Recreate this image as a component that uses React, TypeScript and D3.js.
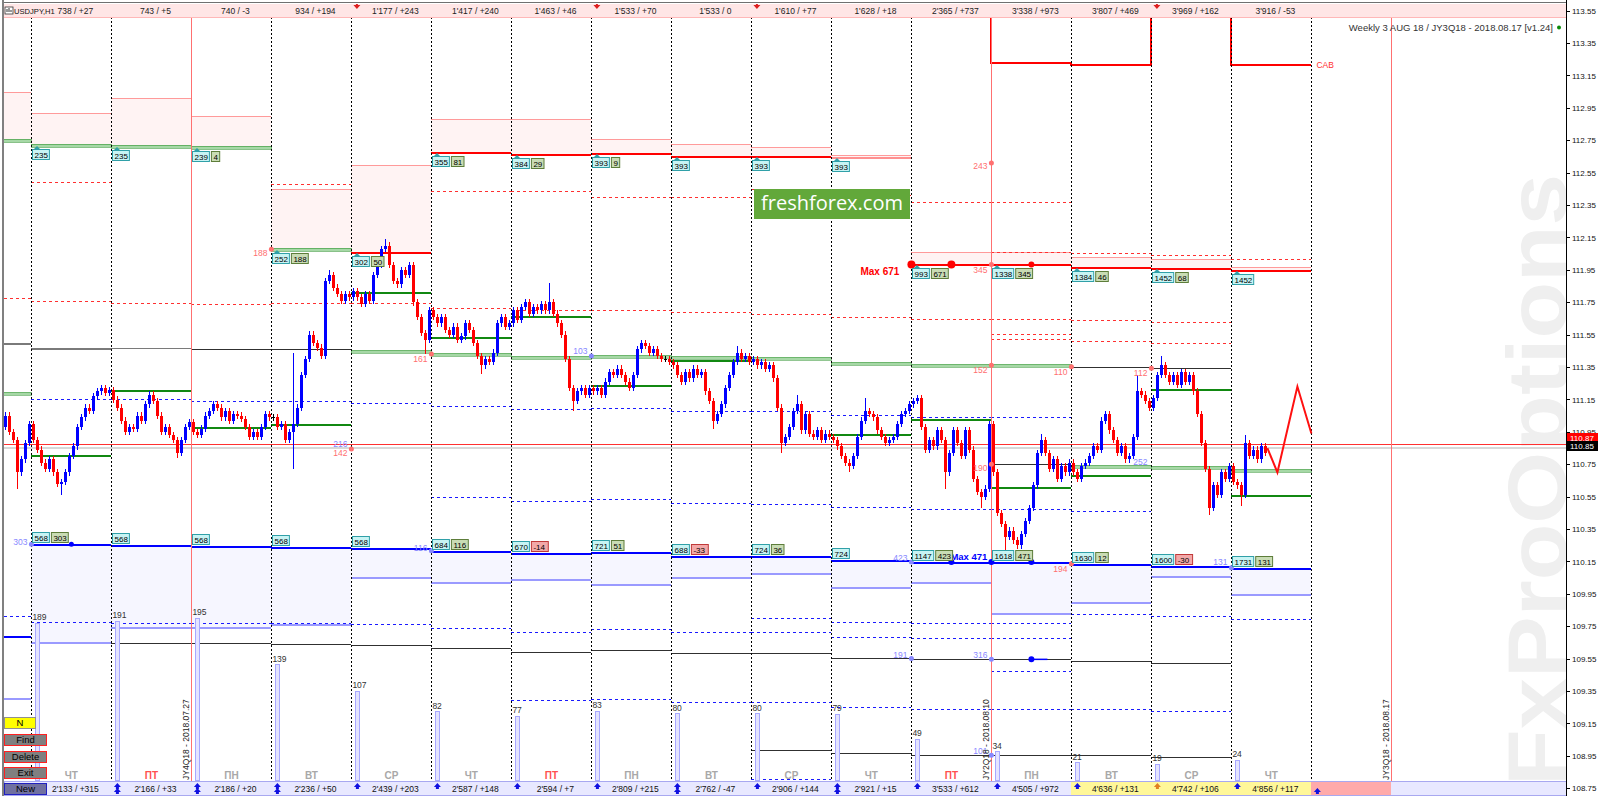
import React from 'react';
import * as d3 from 'd3';

const FONT = "'Liberation Sans', Arial, sans-serif";

// ---- column texts (16 full day columns) ----
const headerLabels = ["738 / +27", "743 / +5", "740 / -3", "934 / +194", "1'177 / +243", "1'417 / +240", "1'463 / +46", "1'533 / +70", "1'533 / 0", "1'610 / +77", "1'628 / +18", "2'365 / +737", "3'338 / +973", "3'807 / +469", "3'969 / +162", "3'916 / -53"];
const footerLabels = ["2'133 / +315", "2'166 / +33", "2'186 / +20", "2'236 / +50", "2'439 / +203", "2'587 / +148", "2'594 / +7", "2'809 / +215", "2'762 / -47", "2'906 / +144", "2'921 / +15", "3'533 / +612", "4'505 / +972", "4'636 / +131", "4'742 / +106", "4'856 / +117"];
const dayNames = ["ЧТ", "ПТ", "ПН", "ВТ", "СР", "ЧТ", "ПТ", "ПН", "ВТ", "СР", "ЧТ", "ПТ", "ПН", "ВТ", "СР", "ЧТ"];
const volumes = [189, 191, 195, 139, 107, 82, 77, 83, 80, 80, 79, 49, 34, 21, 19, 24];
const footerArrows = [2, 2, 2, 2, 1, 1, 1, 1, 2, 1, 2, 1, 1, 1, 1, 1];

// ---- H1 closes, one list per day (first one partial) ----
const firstOpen = 110.98;
const closes: number[][] = [
  [111.05, 110.95, 110.90, 110.70, 110.78, 110.88, 111.00],
  [110.90, 110.84, 110.76, 110.72, 110.78, 110.70, 110.63, 110.64, 110.70, 110.80, 110.86, 110.98, 111.04, 111.10, 111.08, 111.17, 111.20, 111.22, 111.19, 111.21],
  [111.15, 111.10, 111.02, 110.95, 110.98, 110.97, 111.05, 111.02, 111.12, 111.18, 111.14, 111.05, 110.95, 110.98, 110.93, 110.90, 110.82, 110.90, 110.98, 111.01],
  [110.95, 110.93, 110.97, 111.05, 111.08, 111.12, 111.10, 111.04, 111.08, 111.02, 111.06, 111.05, 111.03, 110.98, 110.92, 110.95, 110.92, 110.98, 111.06, 111.04],
  [111.04, 110.98, 111.00, 110.90, 110.95, 111.00, 111.10, 111.30, 111.40, 111.55, 111.50, 111.47, 111.42, 111.88, 111.92, 111.84, 111.80, 111.76, 111.80, 111.78],
  [111.82, 111.78, 111.74, 111.80, 111.76, 111.92, 111.98, 112.08, 112.10, 111.98, 111.88, 111.86, 111.95, 111.92, 111.98, 111.75, 111.66, 111.56, 111.52, 111.70],
  [111.66, 111.62, 111.66, 111.58, 111.55, 111.60, 111.52, 111.54, 111.62, 111.58, 111.50, 111.42, 111.36, 111.40, 111.38, 111.44, 111.62, 111.66, 111.60, 111.62],
  [111.70, 111.64, 111.72, 111.75, 111.68, 111.72, 111.70, 111.74, 111.70, 111.75, 111.68, 111.62, 111.55, 111.40, 111.22, 111.14, 111.20, 111.22, 111.18, 111.22],
  [111.20, 111.22, 111.18, 111.26, 111.32, 111.30, 111.34, 111.30, 111.26, 111.22, 111.30, 111.46, 111.50, 111.48, 111.44, 111.46, 111.42, 111.40, 111.40, 111.38],
  [111.36, 111.30, 111.26, 111.32, 111.28, 111.34, 111.30, 111.32, 111.20, 111.14, 111.02, 111.06, 111.12, 111.22, 111.30, 111.38, 111.44, 111.40, 111.42, 111.38],
  [111.40, 111.36, 111.38, 111.34, 111.36, 111.28, 111.10, 110.88, 110.92, 110.98, 111.08, 111.12, 110.96, 111.06, 110.94, 110.92, 110.96, 110.90, 110.94, 110.92],
  [110.90, 110.86, 110.80, 110.76, 110.74, 110.80, 110.92, 111.02, 111.08, 111.06, 111.04, 110.96, 110.92, 110.88, 110.90, 110.92, 111.00, 111.06, 111.08, 111.12],
  [111.14, 111.16, 110.98, 110.84, 110.90, 110.86, 110.96, 110.90, 110.70, 110.82, 110.96, 110.88, 110.80, 110.96, 110.84, 110.66, 110.58, 110.55, 110.60, 111.00],
  [110.70, 110.45, 110.38, 110.30, 110.34, 110.28, 110.25, 110.32, 110.40, 110.48, 110.62, 110.82, 110.90, 110.82, 110.72, 110.78, 110.66, 110.74, 110.70, 110.76],
  [110.70, 110.66, 110.74, 110.76, 110.80, 110.86, 110.84, 111.02, 111.06, 110.96, 110.90, 110.82, 110.86, 110.78, 110.80, 110.92, 111.20, 111.18, 111.14, 111.10],
  [111.16, 111.30, 111.36, 111.30, 111.26, 111.30, 111.24, 111.32, 111.26, 111.30, 111.20, 111.06, 110.88, 110.72, 110.48, 110.62, 110.56, 110.70, 110.66, 110.74],
  [110.64, 110.62, 110.56, 110.88, 110.80, 110.84, 110.78, 110.86, 110.82],
];
// long wicks: [bar, high, low]
const spikes: [number, number | null, number | null][] = [
  [3, null, 110.60], [14, null, 110.56], [43, null, 110.79], [72, 111.44, 110.72], [81, 111.95, null],
  [95, 112.14, null], [105, null, 111.43], [119, null, 111.31], [136, 111.87, null], [142, null, 111.08],
  [177, null, 110.97], [183, 111.48, null], [194, null, 110.82], [198, 111.18, null], [211, null, 110.70],
  [215, 111.16, null], [235, null, 110.60], [244, null, 110.48], [250, null, 110.22], [259, 110.94, null],
  [283, 111.30, null], [289, 111.42, null], [301, null, 110.44], [309, null, 110.49], [310, 110.93, null],
];
const forecast: [number, number][] = [[315.5, 110.85], [318, 110.70], [323, 111.23], [326.5, 110.94]];

// ---- levels per column k (0 = partial day, 1..16 = day columns) ----
const N = null;
const upperTop = [113.05, 112.92, 113.01, 112.90, 112.45, 112.60, 112.88, 112.88, 112.756, 112.73, 112.71, 112.66, 112.06, 112.06, 112.028, 112.017, 111.97];
const upperBase = [112.752, 112.721, 112.715, 112.709, 112.077, 112.06, 112.68, 112.664, 112.672, 112.655, 112.653, 112.645, 111.984, 111.984, 111.970, 111.960, 111.951];
const upperCyan = [N, 235, 235, 239, 252, 302, 355, 384, 393, 393, 393, 393, 993, 1338, 1384, 1452, 1452];
const upperGreen = [N, N, N, 4, 188, 50, 81, 29, 9, N, N, N, 671, 345, 46, 68, N];
const redDotTop = [N, N, N, N, N, N, N, N, N, N, N, N, N, 112.062, 112.052, 112.044, 112.019];
const redDashUp = [N, 112.49, N, N, 112.48, N, 112.44, 112.44, 112.40, 112.40, 112.45, 112.41, 112.37, 112.37, N, N, N];
const redDotMid = [111.778, 111.758, 111.747, 111.739, 111.744, 111.744, 111.713, 111.702, 111.702, 111.690, 111.680, 111.659, 111.649, 111.649, 111.641, 111.628, N];
const redDotMid2 = [N, N, N, N, N, N, N, N, N, N, N, N, N, 111.552, 111.509, 111.501, N];
const redDotMid3 = [N, N, N, N, N, N, N, N, N, N, N, N, N, 111.522, N, N, N];
const grayMid = [111.501, 111.470, 111.468, 111.460, 111.460, N, N, N, N, N, N, N, N, 110.750, 111.352, 111.343, N];
const lightGreen = [111.190, N, N, N, N, 111.449, 111.429, 111.410, 111.418, 111.410, 111.406, 111.373, 111.361, 111.361, 110.739, 110.731, 110.715];
const darkGreen = [N, 110.809, 111.209, 110.978, 111.000, 111.815, 111.538, 111.667, 111.241, 111.394, N, 110.939, 111.031, 110.612, 110.686, 111.215, 110.560];
const blueDashA = [111.19, 111.151, 111.151, 111.139, 111.139, 111.130, 111.110, 111.089, 111.099, 111.077, 111.077, 111.052, 111.044, 111.044, N, N, N];
const blueDashB = [N, N, N, N, N, N, 110.546, 110.523, 110.534, 110.513, 110.503, 110.485, 110.472, 110.472, 110.462, N, N];
const lowerTop = [109.690, 110.256, 110.252, 110.246, 110.241, 110.231, 110.216, 110.200, 110.209, 110.186, 110.186, 110.157, 110.145, 110.147, 110.136, 110.124, 110.112];
const lowerBase = [109.307, 109.655, 109.747, 109.747, 109.764, 110.054, 110.023, 110.044, 110.013, 110.054, 110.081, 109.993, 110.023, 109.834, 109.898, 110.059, 109.951];
const lowerCyan = [N, 568, 568, 568, 568, 568, 684, 670, 721, 688, 724, 724, 1147, 1618, 1630, 1600, 1731];
const lowerGreen = [N, 303, N, N, N, N, 116, -14, 51, -33, 36, N, 423, 471, 12, -30, 131];
const blueDashC = [109.814, 109.778, 109.769, 109.772, 109.772, 109.762, 109.741, 109.717, 109.731, 109.717, 109.803, 109.778, 109.772, 109.772, 109.824, 109.812, 109.793];
const blueDashC2 = [N, N, N, N, N, N, N, N, N, N, 109.715, 109.686, 109.676, 109.676, N, N, N];
const blackLow = [N, N, 109.645, 109.645, 109.641, 109.633, 109.614, 109.591, 109.602, 109.583, 109.583, 109.552, 109.546, 109.546, 109.536, 109.525, N];
const blueDashE = [N, N, N, N, N, N, N, N, N, N, N, N, N, 109.474, N, N, N];
const blueDashF = [N, N, N, N, N, N, N, 109.293, 109.303, 109.283, 109.283, 109.252, 109.241, 109.241, 109.241, 109.225, N];
const blackLow2 = [N, N, N, N, N, N, N, N, N, N, 108.986, 108.966, 108.954, 108.954, 108.954, 108.941, N];
const blueDashH = [N, N, N, N, N, N, N, N, N, N, 108.806, 108.785, 108.775, 108.775, N, N, N];
const cab: [number, number][] = [[13, 113.70], [13, 113.228], [14, 113.228], [14, 113.216], [15, 113.216], [15, 113.70], [16, 113.70], [16, 113.214], [17, 113.214]];
// [column edge, text price, text, colour, dot price]
const notes: [number, number, string, string, number | null][] = [
  [4, 112.054, "188", "#ff7070", 112.077], [13, 112.591, "243", "#ff7070", 112.610], [13, 111.949, "345", "#ff7070", 111.984],
  [6, 111.400, "161", "#ff7070", 111.431], [5, 110.875, "216", "#8888ff", N], [5, 110.820, "142", "#ff7070", 110.844],
  [8, 111.449, "103", "#8888ff", 111.418], [13, 111.332, "152", "#ff7070", 111.361], [14, 111.322, "110", "#ff7070", 111.352],
  [15, 111.315, "112", "#ff7070", 111.343], [15, 110.764, "252", "#8888ff", N], [13, 110.727, "190", "#ff7070", 110.750],
  [1, 110.270, "303", "#8888ff", 110.256], [6, 110.235, "116", "#8888ff", 110.216], [12, 110.172, "423", "#8888ff", 110.147],
  [16, 110.145, "131", "#8888ff", 110.112], [14, 110.104, "194", "#ff7070", 110.136], [12, 109.573, "191", "#8888ff", 109.552],
  [13, 109.573, "316", "#8888ff", 109.546], [13, 108.980, "101", "#8888ff", 108.954],
];
const bidPrice = 110.85;
const askPrice = 110.873;
const buttons = [
  { t: "N", y: 717, w: 31, fill: "#ffff00", stroke: "#909090" },
  { t: "Find", y: 734, w: 42, fill: "#808080", stroke: "#ff2020" },
  { t: "Delete", y: 751, w: 42, fill: "#808080", stroke: "#ff2020" },
  { t: "Exit", y: 767, w: 42, fill: "#808080", stroke: "#ff2020" },
  { t: "New", y: 783, w: 42, fill: "#7070a0", stroke: "#2020c0" },
];

export default function App() {
  const x = d3.scaleLinear().domain([6.5, 346.5]).range([31.4, 1391.4]);
  const y = d3.scaleLinear().domain([108.75, 113.55]).range([788.3, 10.7]);
  const vol = d3.scaleLinear().domain([0, 200]).range([780, 614]);
  const edge = (k: number) => (k === 0 ? -0.4 : 6.5 + 20 * (k - 1));
  const xl = (k: number) => x(edge(k));
  const xr = (k: number) => x(edge(k + 1));
  const py = (v: number) => Math.round(y(v)) + 0.5;

  const lines = (vals: (number | null)[], key: string, props: any) =>
    vals.map((v, k) => v == null ? null : (
      <line key={key + k} x1={xl(k)} x2={xr(k)} y1={py(v)} y2={py(v)} {...props} />
    ));

  const flat = closes.flat();
  const spikeMap = new Map(spikes.map(s => [s[0], s]));
  const bars = flat.map((c, i) => {
    const o = i === 0 ? firstOpen : flat[i - 1];
    const s = spikeMap.get(i);
    const h = s && s[1] != null ? s[1] : Math.max(o, c) + 0.02;
    const l = s && s[2] != null ? s[2] : Math.min(o, c) - 0.02;
    return { i, o, c, h, l };
  });

  const ticks = d3.range(0, 25).map(i => 108.75 + 0.2 * i);
  const cabLine = d3.line<[number, number]>().x(d => x(edge(d[0]))).y(d => y(d[1]));
  const fcLine = d3.line<[number, number]>().x(d => x(d[0])).y(d => y(d[1]));
  const sepK = d3.range(1, 18);
  const bw = (t: string) => t.length * 4.3 + 4;

  const box = (bx: number, by: number, txt: string, kind: string, key: string) => {
    const fill = kind === 'c' ? '#c8f4f4' : kind === 'g' ? '#c9dcb4' : '#f2a8a8';
    const stroke = kind === 'c' ? '#30a0a8' : kind === 'g' ? '#5d7d3a' : '#c03838';
    return (
      <g key={key}>
        <rect x={bx + 0.5} y={by + 0.5} width={bw(txt)} height={10} fill={fill} stroke={stroke} />
        <text x={bx + 2.5} y={by + 8.5} fontSize={8} fill="#000">{txt}</text>
      </g>
    );
  };

  return (
    <svg width={1600} height={796} style={{ display: 'block', position: 'absolute', left: 0, top: 0, fontFamily: FONT }}>
      <defs>
        <clipPath id="plot"><rect x={4} y={4} width={1562} height={792} /></clipPath>
      </defs>
      <rect x={0} y={0} width={1600} height={796} fill="#fff" />
      <text transform="translate(1566,480) rotate(-90)" textAnchor="middle" fontSize={84} fontWeight="bold"
        fill="#efefef" textLength={612} lengthAdjust="spacingAndGlyphs" fontFamily={FONT}>FxProOptions</text>

      <g clipPath="url(#plot)" shapeRendering="crispEdges">
        {/* pink upper zones and lavender lower zones */}
        {upperTop.map((t, k) => (
          <rect key={'pz' + k} x={xl(k)} y={y(t)} width={xr(k) - xl(k)} height={y(upperBase[k]) - y(t)} fill="#fff3f3" />
        ))}
        {lowerTop.map((t, k) => k === 0 ? null : (
          <rect key={'lz' + k} x={xl(k)} y={y(t)} width={xr(k) - xl(k)} height={y(lowerBase[k]) - y(t)} fill="#f6f6ff" />
        ))}
        {lines(upperTop, 'ut', { stroke: '#ff9a9a', strokeWidth: 1 })}
        {lines(redDotTop, 'rdt', { stroke: '#ff3030', strokeDasharray: '3,3' })}
        {lines(redDashUp, 'rdu', { stroke: '#ff3030', strokeDasharray: '3,3' })}
        {lines(redDotMid, 'rdm', { stroke: '#ff3030', strokeDasharray: '3,3' })}
        {lines(redDotMid2, 'rdm2', { stroke: '#ff3030', strokeDasharray: '3,3' })}
        {lines(redDotMid3, 'rdm3', { stroke: '#ff3030', strokeDasharray: '3,3' })}
        {grayMid.map((v, k) => v == null ? null : (
          <line key={'gm' + k} x1={xl(k)} x2={xr(k)} y1={py(v)} y2={py(v)}
            stroke={k < 3 ? '#7a7a7a' : '#303030'} strokeWidth={k < 2 ? 2 : 1} />
        ))}
        {lines(blueDashA, 'bda', { stroke: '#1a1aff', strokeDasharray: '3,3' })}
        {lines(blueDashB, 'bdb', { stroke: '#1a1aff', strokeDasharray: '3,3' })}
        {lines(blueDashC, 'bdc', { stroke: '#1a1aff', strokeDasharray: '3,3' })}
        {lines(blueDashC2, 'bdc2', { stroke: '#1a1aff', strokeDasharray: '3,3' })}
        {lines(blueDashE, 'bde', { stroke: '#1a1aff', strokeDasharray: '3,3' })}
        {lines(blueDashF, 'bdf', { stroke: '#1a1aff', strokeDasharray: '3,3' })}
        {lines(blueDashH, 'bdh', { stroke: '#1a1aff', strokeDasharray: '3,3' })}
        {lines(blackLow, 'bl', { stroke: '#303030', strokeWidth: 1 })}
        {lines(blackLow2, 'bl2', { stroke: '#303030', strokeWidth: 1 })}
        {lines(lowerBase, 'lb', { stroke: '#9a9aff', strokeWidth: 2 })}
        {lightGreen.map((v, k) => v == null ? null : (
          <rect key={'lg' + k} x={xl(k)} y={Math.round(y(v)) - 1} width={xr(k) - xl(k)} height={3}
            fill="#a6d8a6" stroke="#4aa04a" strokeWidth={0.6} />
        ))}
        {lines(darkGreen, 'dg', { stroke: '#118811', strokeWidth: 2 })}
        {upperBase.map((v, k) => k <= 4 ? (
          <rect key={'ub' + k} x={xl(k)} y={Math.round(y(v)) - 1} width={xr(k) - xl(k)} height={3}
            fill="#a6d8a6" stroke="#3a983a" strokeWidth={0.6} />
        ) : (
          <line key={'ub' + k} x1={xl(k)} x2={xr(k)} y1={py(v)} y2={py(v)}
            stroke={k === 11 ? '#ff9090' : '#ff0000'} strokeWidth={2} />
        ))}
        {lines(lowerTop, 'lt', { stroke: '#0000ff', strokeWidth: 2 })}

        {/* ask / bid */}
        <line x1={4} x2={1566} y1={py(bidPrice) - 1} y2={py(bidPrice) - 1} stroke="#d8d8d8" strokeWidth={2} />
        <line x1={4} x2={1566} y1={py(askPrice)} y2={py(askPrice)} stroke="#ff3030" strokeWidth={1} />

        {/* CAB */}
        <path d={cabLine(cab) || ''} fill="none" stroke="#ff0000" strokeWidth={2} />

        {/* day separators */}
        {sepK.map(k => (
          <line key={'sep' + k} x1={Math.round(x(edge(k))) + 0.5} x2={Math.round(x(edge(k))) + 0.5} y1={17} y2={782}
            stroke="#000" strokeDasharray="2,2" />
        ))}
        {[3, 13, 18].map(k => (
          <line key={'rv' + k} x1={Math.round(x(edge(k))) + 0.5} x2={Math.round(x(edge(k))) + 0.5} y1={4} y2={796}
            stroke="#ff7070" />
        ))}

        {/* volume bars */}
        {volumes.map((v, j) => (
          <rect key={'v' + j} x={Math.round(xl(j + 1)) + 4.5} y={vol(v)} width={4} height={780 - vol(v)} fill="#e4e4ff" stroke="#a8a8ff" />
        ))}

        {/* candles */}
        {bars.map(b => {
          const cx = Math.round(x(b.i));
          const col = b.c > b.o ? '#0000ff' : b.c < b.o ? '#ff0000' : '#000000';
          const top = y(Math.max(b.o, b.c));
          const bh = Math.max(1, y(Math.min(b.o, b.c)) - top);
          return (
            <g key={'c' + b.i}>
              <rect x={cx} y={y(b.h)} width={1} height={y(b.l) - y(b.h)} fill={col} />
              <rect x={cx - 1} y={top} width={3} height={bh} fill={col} />
            </g>
          );
        })}
        <path d={fcLine(forecast) || ''} fill="none" stroke="#ff1010" strokeWidth={2} shapeRendering="auto" />
      </g>

      {/* dots and small numbers */}
      <g fontSize={8.5}>
        {notes.map((n, i) => (
          <g key={'n' + i}>
            <text x={x(edge(n[0])) - 4} y={y(n[1]) + 3} textAnchor="end" fill={n[3]}>{n[2]}</text>
            {n[4] != null && <circle cx={x(edge(n[0]))} cy={y(n[4])} r={2.5} fill={n[3]} />}
          </g>
        ))}
        {volumes.map((v, j) => (
          <text key={'vt' + j} x={xl(j + 1) + 1} y={vol(v) - 3} fill="#333">{v}</text>
        ))}
      </g>
      <circle cx={xl(12)} cy={y(111.984)} r={4} fill="#ff0000" />
      <circle cx={x(edge(12) + 10)} cy={y(111.984)} r={4} fill="#ff0000" />
      <circle cx={x(edge(13) + 10)} cy={y(111.984)} r={3} fill="#ff0000" />
      <text x={xl(12) - 12} y={y(111.939) + 3.5} textAnchor="end" fontSize={10} fontWeight="bold" fill="#ff0000">Max 671</text>
      <circle cx={x(edge(1) + 10)} cy={y(110.256)} r={2.5} fill="#0000ff" />
      <circle cx={x(edge(12) + 10)} cy={y(110.147)} r={3} fill="#0000ff" />
      <circle cx={xl(13)} cy={y(110.147)} r={3} fill="#0000ff" />
      <circle cx={x(edge(13) + 10)} cy={y(110.147)} r={3} fill="#0000ff" />
      <text x={x(edge(12) + 10) - 1} y={y(110.18) + 3} fontSize={9.5} fontWeight="bold" fill="#0000ff">Max 471</text>
      <circle cx={x(edge(13) + 10)} cy={y(109.546)} r={3} fill="#0000ff" />
      <line x1={x(edge(13) + 10)} x2={x(edge(13) + 14)} y1={y(109.546)} y2={y(109.546)} stroke="#0000ff" strokeWidth={1.5} />
      <text x={xr(16) + 5} y={y(113.214) + 3} fontSize={8.5} fill="#ff3030">CAB</text>

      {/* label boxes */}
      {upperCyan.map((v, k) => {
        if (v == null) return null;
        const bx = Math.round(xl(k)) + 1;
        const by = Math.round(y(upperBase[k])) + 4;
        const g = upperGreen[k];
        return (
          <g key={'ubx' + k}>
            <path d={`M${bx + 5},${by - 3} l3,3 h-6 z`} fill="#30a0a8" />
            {box(bx, by, String(v), 'c', 'uc' + k)}
            {g != null && box(bx + bw(String(v)) + 2, by, String(g), g < 0 ? 'r' : 'g', 'ug' + k)}
          </g>
        );
      })}
      {lowerCyan.map((v, k) => {
        if (v == null) return null;
        const bx = Math.round(xl(k)) + 1;
        const by = Math.round(y(lowerTop[k])) - 12;
        const g = lowerGreen[k];
        return (
          <g key={'lbx' + k}>
            {box(bx, by, String(v), 'c', 'lc' + k)}
            {g != null && box(bx + bw(String(v)) + 2, by, String(g), g < 0 ? 'r' : 'g', 'lg' + k)}
          </g>
        );
      })}

      {/* freshforex badge */}
      <rect x={754} y={189} width={156} height={30} fill="#62a83a" />
      <text x={832} y={210} textAnchor="middle" fontSize={20} fill="#fff" fontFamily="'Open Sans', sans-serif">freshforex.com</text>

      {/* rotated expiry labels */}
      {[[189, "JY4Q18 - 2018.07.27"], [989, "JY2Q18 - 2018.08.10"], [1389, "JY3Q18 - 2018.08.17"]].map(([px, t]) => (
        <text key={String(t)} transform={`translate(${px},780) rotate(-90)`} fontSize={8.5} fill="#222">{t}</text>
      ))}

      {/* day names */}
      {dayNames.map((d, j) => (
        <text key={'dn' + j} x={(xl(j + 1) + xr(j + 1)) / 2} y={779} textAnchor="middle" fontSize={10} fontWeight="bold"
          fill={d === 'ПТ' ? '#ff5050' : '#a8a8a8'}>{d}</text>
      ))}

      {/* header strip */}
      <g shapeRendering="crispEdges">
        <rect x={4} y={4} width={1562} height={13} fill="#ffe6e6" />
        <line x1={4} x2={1566} y1={17.5} y2={17.5} stroke="#ffb8b8" />
        <line x1={3} x2={1566} y1={2.5} y2={2.5} stroke="#707070" />
      </g>
      {headerLabels.map((t, j) => (
        <text key={'h' + j} x={(xl(j + 1) + xr(j + 1)) / 2 + 4} y={14} textAnchor="middle" fontSize={8.5} fill="#222">{t}</text>
      ))}
      {[5, 8, 10, 15].map(k => (
        <path key={'hm' + k} d={`M${xl(k) + 2},5 h7 l-3.5,4 z M${xl(k) + 4.5},4 h2 v2 h-2 z`} fill="#dd2020" />
      ))}
      <rect x={5} y={7} width={8} height={7} fill="#fff" stroke="#333" strokeWidth={0.8} />
      <path d="M7,12 v-3 M9,12 v-4 M11,12 v-2" stroke="#333" strokeWidth={1} />
      <text x={14} y={14} fontSize={7.6} fill="#111">USDJPY,H1</text>

      {/* footer strip */}
      <g shapeRendering="crispEdges">
        <rect x={4} y={781.5} width={1562} height={14} fill="#e8e8ff" stroke="#a8a8f0" />
        <rect x={xl(14)} y={782} width={xr(16) - xl(14)} height={13} fill="#fff799" />
        <rect x={xr(16)} y={782} width={80} height={13} fill="#ffaaaa" />
      </g>
      {footerLabels.map((t, j) => (
        <text key={'f' + j} x={(xl(j + 1) + xr(j + 1)) / 2 + 4} y={791.5} textAnchor="middle" fontSize={8.5} fill="#111">{t}</text>
      ))}
      {footerArrows.map((n, j) => (
        <g key={'fa' + j} fill={j === 14 ? '#e08020' : '#1010e0'}>
          {d3.range(n).map(r => (
            <path key={r} d={`M${xl(j + 1) + 6},${783 + r * 5} l3.5,4 h-2 v2 h-3 v-2 h-2 z`} />
          ))}
        </g>
      ))}
      <path d={`M${xr(16) + 6},${788} l3.5,4 h-2 v2 h-3 v-2 h-2 z`} fill="#1010e0" />

      {/* buttons */}
      {buttons.map(b => (
        <g key={b.t}>
          <rect x={4.5} y={b.y + 0.5} width={b.w} height={11} fill={b.fill} stroke={b.stroke} />
          <text x={4.5 + b.w / 2} y={b.y + 9} textAnchor="middle" fontSize={9.5} fill="#000">{b.t}</text>
        </g>
      ))}

      {/* right price axis */}
      <g shapeRendering="crispEdges">
        <line x1={1566.5} x2={1566.5} y1={0} y2={796} stroke="#000" />
        <line x1={3} x2={3} y1={0} y2={796} stroke="#808080" strokeWidth={2} />
        {ticks.map(t => (
          <line key={'tk' + t} x1={1566} x2={1570} y1={py(t)} y2={py(t)} stroke="#000" />
        ))}
      </g>
      {ticks.map(t => (
        <text key={'tl' + t} x={1572} y={y(t) + 3} fontSize={8} fill="#111">{t.toFixed(2)}</text>
      ))}
      <rect x={1567} y={433} width={31} height={10} fill="#ff0000" />
      <text x={1570} y={441} fontSize={8} fill="#fff">{askPrice.toFixed(2)}</text>
      <rect x={1567} y={441} width={31} height={10} fill="#000" />
      <text x={1570} y={449} fontSize={8} fill="#fff">{bidPrice.toFixed(2)}</text>

      <text x={1553} y={31} textAnchor="end" fontSize={9.5} fill="#333">Weekly 3 AUG 18 / JY3Q18 - 2018.08.17 [v1.24]</text>
      <circle cx={1559} cy={27.5} r={2} fill="#0a8a0a" />
    </svg>
  );
}
